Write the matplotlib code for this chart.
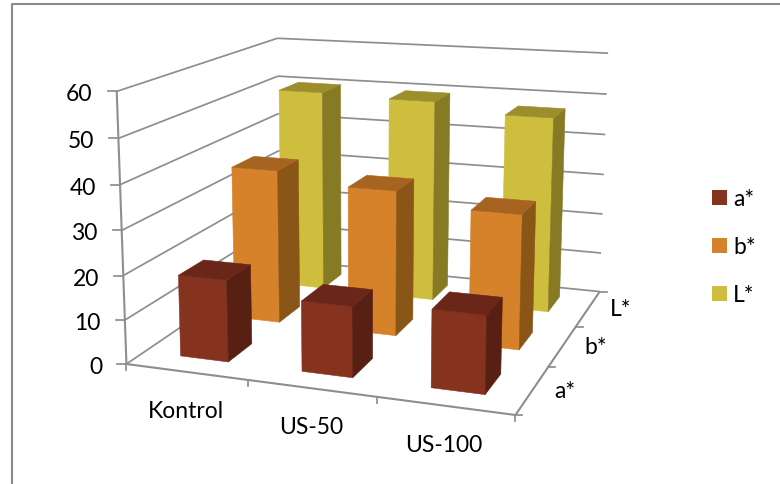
import numpy as np
import matplotlib
matplotlib.use("Agg")
import matplotlib.pyplot as plt
from matplotlib.patches import Polygon, Rectangle

plt.rcParams['font.family'] = ['Lato', 'DejaVu Sans']

categories = ["Kontrol", "US-50", "US-100"]
series_names = ["a*", "b*", "L*"]
a_values = [18.5, 15.7, 17]
b_values = [36.5, 34, 31]
l_values = [50, 49.4, 47.2]
z_ticks = [0, 10, 20, 30, 40, 50, 60]

front_colors = ["#85321f", "#d6822b", "#cfbe3e"]
side_colors = ["#572012", "#8a5618", "#877a25"]
top_colors = ["#6a2618", "#a66420", "#9c8e2d"]
grid_color = "#8e8e8e"
FONT = 16.5

BAR_W = 0.40
BAR_D = 0.44

# camera calibration: (category pos, series pos, value) -> canvas position
calib_world = [(0, 0, 0), (3, 0, 0), (3, 3, 0), (0, 3, 0), (0, 0, 60), (3, 3, 60), (0, 3, 60),
               (1, 0, 0), (2, 0, 0), (3, 1, 0), (3, 2, 0), (0, 0, 30)]
calib_canvas = [(128, 363), (513, 414), (598, 291), (279, 260), (116, 91), (608, 54), (278, 38),
                (248, 382), (376, 398), (550, 367), (579, 326), (122, 230)]


def fit_camera(world, canvas):
    rows, rhs = [], []
    for (x, y, z), (u, v) in zip(world, canvas):
        rows.append([x, y, z, 1, 0, 0, 0, 0, -u * x, -u * y, -u * z])
        rows.append([0, 0, 0, 0, x, y, z, 1, -v * x, -v * y, -v * z])
        rhs += [u, v]
    p = np.linalg.lstsq(np.array(rows, float), np.array(rhs, float), rcond=None)[0]
    return np.append(p, 1).reshape(3, 4)


cam = fit_camera(calib_world, calib_canvas)


def project(x, y, z):
    u, v, w = cam @ np.array([x, y, z, 1.0])
    return u / w, v / w


def face(ax, corners, color, zorder):
    pts = [project(*c) for c in corners]
    ax.add_patch(Polygon(pts, closed=True, facecolor=color, edgecolor=color, linewidth=0.4, zorder=zorder))


def grid_line(ax, p0, p1, zorder=1, lw=1.25):
    a, b = project(*p0), project(*p1)
    ax.plot([a[0], b[0]], [a[1], b[1]], color=grid_color, lw=lw, zorder=zorder, solid_capstyle="butt")


def draw_bar(ax, xc, yc, value, k, zorder):
    x0, x1 = xc - BAR_W / 2, xc + BAR_W / 2
    y0, y1 = yc - BAR_D / 2, yc + BAR_D / 2
    face(ax, [(x0, y0, 0), (x1, y0, 0), (x1, y0, value), (x0, y0, value)], front_colors[k], zorder)
    face(ax, [(x1, y0, 0), (x1, y1, 0), (x1, y1, value), (x1, y0, value)], side_colors[k], zorder)
    face(ax, [(x0, y0, value), (x1, y0, value), (x1, y1, value), (x0, y1, value)], top_colors[k], zorder)


fig = plt.figure(figsize=(7.8, 4.84), dpi=100)
ax = fig.add_axes([0, 0, 1, 1])
ax.set_xlim(0, 780)
ax.set_ylim(484, 0)
ax.axis("off")

# chart frame
ax.plot([12, 12, 780], [484, 4.3, 4.3], color="#8a8a8a", lw=1.5, zorder=1)

# walls and floor
for z in z_ticks:
    grid_line(ax, (0, 0, z), (0, 3, z))
    grid_line(ax, (0, 3, z), (3, 3, z))
grid_line(ax, (0, 0, 0), (0, 0, 60), lw=1.5)
grid_line(ax, (0, 0, 0), (3, 0, 0), lw=1.5)
grid_line(ax, (3, 0, 0), (3, 3, 0), lw=1.5)

# tick marks
for z in z_ticks:
    u, v = project(0, 0, z)
    ax.plot([u - 9, u], [v, v], color=grid_color, lw=1.25, zorder=1)
    ax.text(u - 24, v + 10, str(z), ha="right", va="baseline", fontsize=FONT, color="black")
for i in range(4):
    u, v = project(i, 0, 0)
    ax.plot([u, u], [v, v + 6], color=grid_color, lw=1.25, zorder=1)
for j in range(4):
    u, v = project(3, j, 0)
    ax.plot([u, u + 7], [v, v], color=grid_color, lw=1.25, zorder=1)

# bars, back row first
all_values = [a_values, b_values, l_values]
for k in [2, 1, 0]:
    for i in range(3):
        draw_bar(ax, i + 0.505, k + 0.52, all_values[k][i], k, zorder=5 + (2 - k) * 3 + i * 0.1)

for i, name in enumerate(categories):
    u, v = project(i + 0.5, 0, 0)
    ax.text(u - (i == 2) * 2, v + 46, name, ha="center", va="baseline", fontsize=FONT, color="black")
for k, name in enumerate(series_names):
    u, v = project(3, k + 0.5, 0)
    ax.text(u + 22, v + 8, name, ha="left", va="baseline", fontsize=FONT, color="black")

# legend
for k, (name, y) in enumerate(zip(series_names, [197.5, 245.5, 293.5])):
    ax.add_patch(Rectangle((712, y - 7.5), 15, 15, facecolor=front_colors[k], edgecolor="none"))
    ax.text(733, y + 8, name, ha="left", va="baseline", fontsize=FONT, color="black")

fig.savefig("out.png", dpi=100)
